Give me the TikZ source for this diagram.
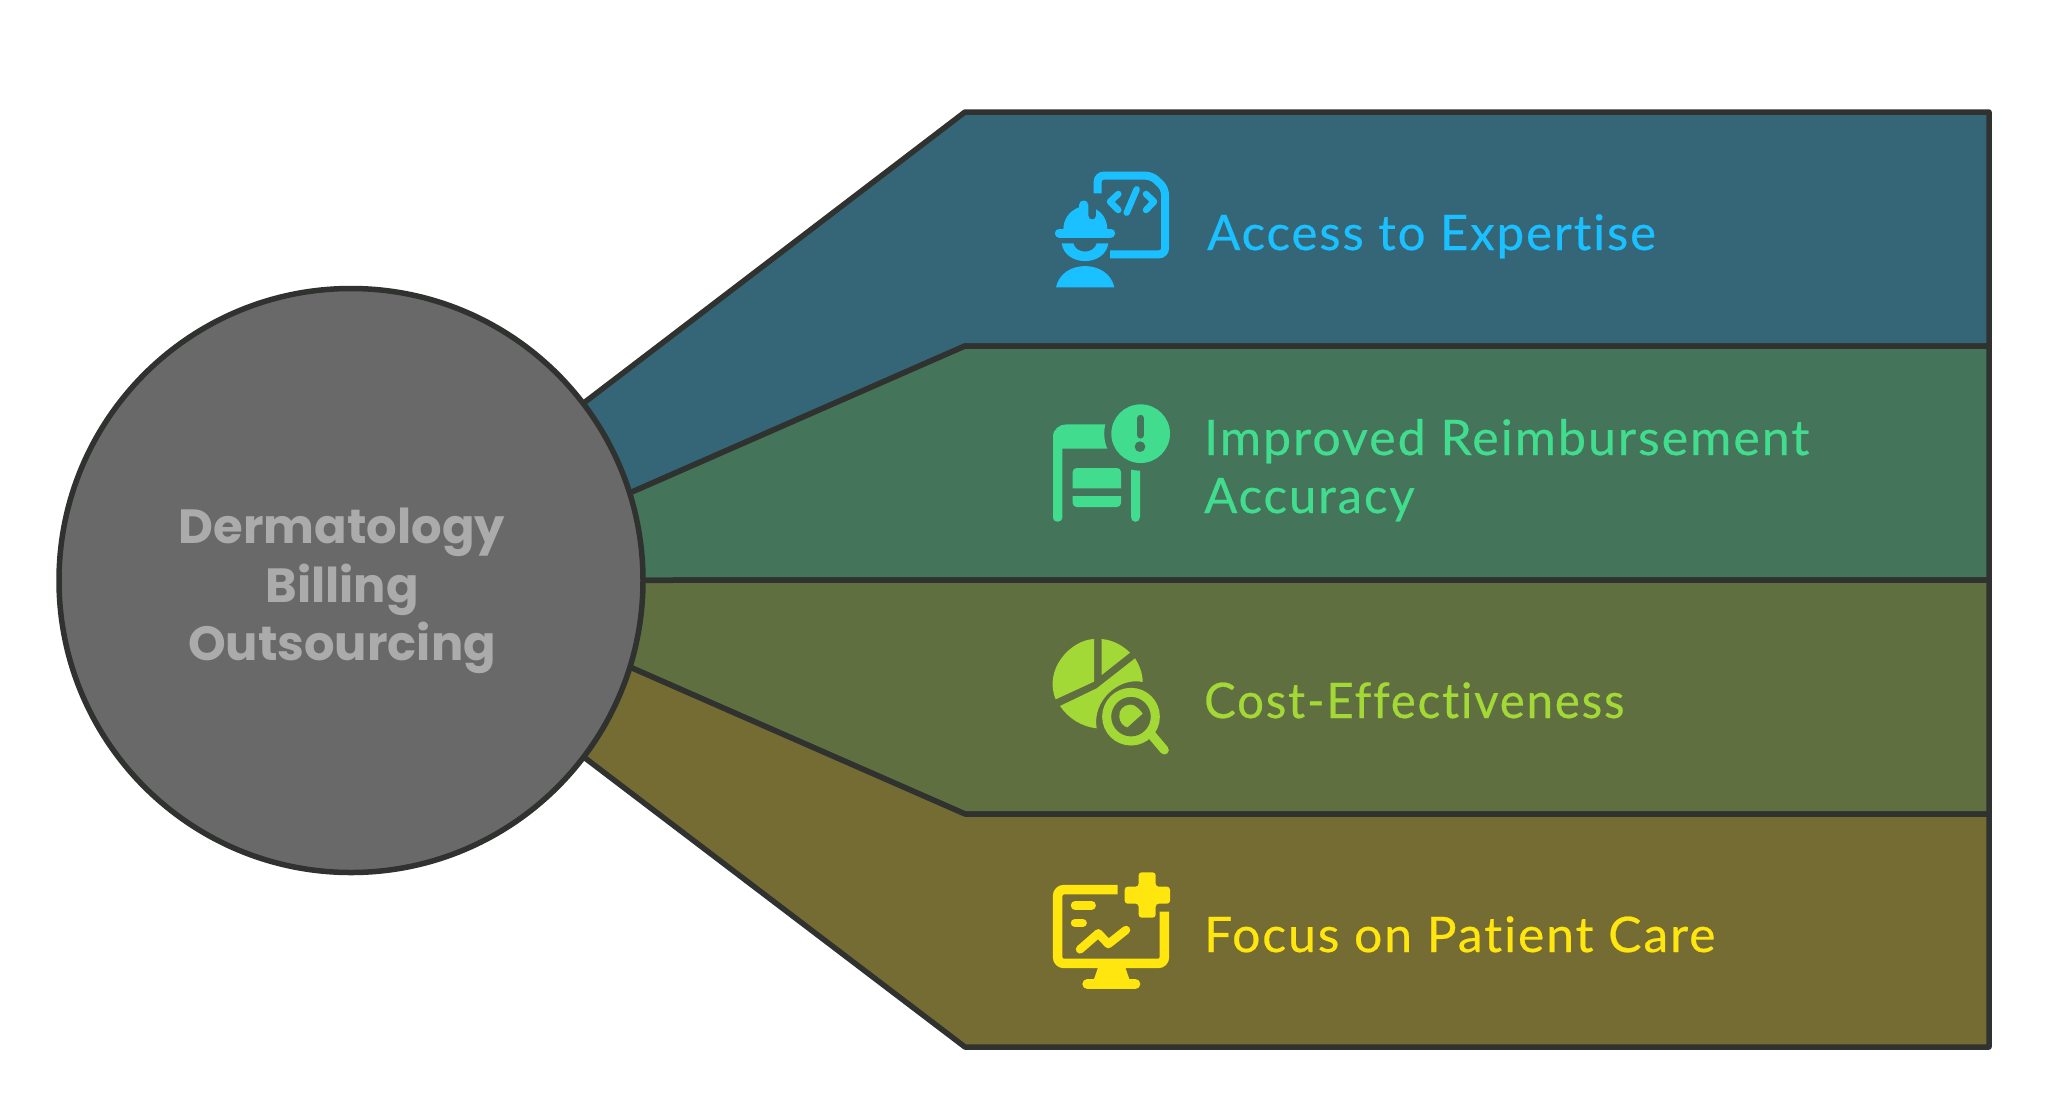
\documentclass[tikz,border=0pt]{standalone}
\usepackage{fontspec}
\setmainfont{Lato}
\newfontfamily\hubfont{Poppins}
\newfontfamily\labelfont[LetterSpace=4,FakeBold=0.5,Ligatures=NoCommon]{Lato}
\definecolor{edgeC}{HTML}{2F322F}
\definecolor{bandA}{HTML}{356678}
\definecolor{bandB}{HTML}{44745A}
\definecolor{bandC}{HTML}{5F6F40}
\definecolor{bandD}{HTML}{756C33}
\definecolor{hubC}{HTML}{696969}
\definecolor{hubT}{HTML}{ABABAB}
\definecolor{inkA}{HTML}{1AC0FF}
\definecolor{inkB}{HTML}{42DC8E}
\definecolor{inkC}{HTML}{A3D936}
\definecolor{inkD}{HTML}{FFE60F}
\tikzset{
  band/.style={draw=edgeC,line width=5.5pt,line join=round},
  label/.style={anchor=base west,inner sep=0pt,font=\labelfont\fontsize{49}{58}\selectfont},
  hublabel/.style={anchor=base,inner sep=0pt,text=hubT,font=\hubfont\bfseries\fontsize{48}{58}\selectfont},
  icon/.style={shift={#1},scale=1/3},
  rl/.style={line cap=round,line join=round}
}
\begin{document}
\begin{tikzpicture}[x=1pt,y=-1pt]
\useasboundingbox (0,0) rectangle (2048,1096);
\fill[white] (0,0) rectangle (2048,1096);
\coordinate (c) at (351,580.5);
\coordinate (a0) at (965,112); \coordinate (a1) at (1989,112);
\coordinate (b0) at (965,346); \coordinate (b1) at (1989,346);
\coordinate (m0) at (965,580); \coordinate (m1) at (1989,580);
\coordinate (d0) at (965,814); \coordinate (d1) at (1989,814);
\coordinate (e0) at (965,1047); \coordinate (e1) at (1989,1047);
\coordinate (ca) at (585,402); \coordinate (cb) at (632,492);
\coordinate (cd) at (632,668); \coordinate (ce) at (585,758);
\draw[band,fill=bandA] (ca) -- (a0) -- (a1) -- (b1) -- (b0) -- (cb) -- (c) -- cycle;
\draw[band,fill=bandB] (cb) -- (b0) -- (b1) -- (m1) -- (m0) -- (c) -- cycle;
\draw[band,fill=bandC] (c) -- (m0) -- (m1) -- (d1) -- (d0) -- (cd) -- cycle;
\draw[band,fill=bandD] (cd) -- (d0) -- (d1) -- (e1) -- (e0) -- (ce) -- (c) -- cycle;
\node[circle,draw=edgeC,fill=hubC,line width=5.5pt,minimum size=584pt,inner sep=0pt] (hub) at (c) {};
\node[hublabel] (h1) at (342,543) {Dermatology};
\node[hublabel] (h2) at (342,602) {Billing};
\node[hublabel] (h3) at (342,660) {Outsourcing};
\node[label,text=inkA] (l1) at (1207,250) {Access to Expertise};
\node[label,text=inkB] (l2a) at (1204,455) {\scalebox{1.022}[1]{Improved Reimbursement}};
\node[label,text=inkB] (l2b) at (1204,513) {Accuracy};
\node[label,text=inkC] (l3) at (1204,718) {\scalebox{0.964}[1]{Cost-Effectiveness}};
\node[label,text=inkD] (l4) at (1204,952) {\scalebox{1.015}[1]{Focus on Patient Care}};
% icon 1
\begin{scope}[icon={(1020,150)}]
\draw[inkA,line width=8pt,rounded corners=6pt] (233,130) -- (233,77) -- (395,77) -- (435,115) -- (435,313) -- (270,313);
\draw[inkA,line width=6.5pt,rl] (295,132) -- (270,155) -- (295,180);
\draw[inkA,line width=6.5pt,rl] (350,118) -- (320,188);
\draw[inkA,line width=6.5pt,rl] (378,132) -- (402,155) -- (378,180);
\fill[inkA] (130,240) .. controls (130,205) and (150,182) .. (177,172) -- (177,165) .. controls (177,147) and (205,147) .. (205,165) -- (205,197) .. controls (205,212) and (228,212) .. (228,197) -- (228,178) .. controls (250,190) and (262,212) .. (262,240) -- cycle;
\draw[inkA,line width=9pt,rl] (118,249) -- (272,249);
\fill[inkA] (125,280) -- (160,280) .. controls (168,313) and (222,313) .. (230,280) -- (265,280) .. controls (255,351) and (135,351) .. (125,280) -- cycle;
\fill[inkA] (108,412) .. controls (125,327) and (265,327) .. (283,412) -- cycle;
\end{scope}
% icon 2
\begin{scope}[icon={(1020,390)}]
\fill[inkB] (99,381) -- (99,140) .. controls (99,118) and (118,103) .. (140,103) -- (256,103) .. controls (250,125) and (252,155) .. (262,176) -- (127,176) -- (127,381) .. controls (127,400) and (99,400) .. (99,381) -- cycle;
\fill[inkB] (362,131) circle (88);
\draw[bandB,line width=7pt,rl] (362,85) -- (362,135);
\fill[bandB] (360,170) circle (16);
\fill[inkB] (333,239) .. controls (342,241) and (351,242) .. (360,242) -- (360,381) .. controls (360,400) and (333,400) .. (333,381) -- cycle;
\fill[inkB] (158,295) [rounded corners=4pt] -- (158,234) -- (303,234) [sharp corners] -- (303,295) -- cycle;
\fill[inkB] (158,318) [rounded corners=4pt] -- (158,351) -- (303,351) [sharp corners] -- (303,318) -- cycle;
\end{scope}
% icon 3
\begin{scope}[icon={(1020,620)}]
\fill[inkC] (222,57) .. controls (150,60) and (70,150) .. (107,238) -- (222,185) -- cycle;
\fill[inkC] (245,57) .. controls (280,60) and (310,78) .. (330,98) -- (245,165) -- cycle;
\fill[inkC] (120,258) -- (230,205) -- (345,115) .. controls (358,135) and (368,160) .. (368,186) .. controls (300,170) and (215,240) .. (230,325) .. controls (185,320) and (145,295) .. (120,258) -- cycle;
\draw[inkC,line width=9pt] (333,290) circle (73);
\draw[inkC,line width=9pt,rl] (395,345) -- (433,390);
\fill[inkC] (368,281) .. controls (355,262) and (340,252) .. (330,254) .. controls (310,255) and (296,270) .. (298,290) .. controls (298,305) and (310,320) .. (322,322) -- cycle;
\end{scope}
% icon 4
\begin{scope}[icon={(1020,855)}]
\draw[inkD,line width=9.5pt,rounded corners=6pt] (293,104) -- (113,104) -- (113,325) -- (433,325) -- (433,170);
\fill[inkD] (235,335) -- (315,335) -- (330,378) -- (220,378) -- cycle;
\draw[inkD,line width=10pt,rl] (202,387) -- (346,387);
\draw[inkD,line width=8.5pt,rl] (165,151) -- (215,151);
\draw[inkD,line width=8.5pt,rl] (165,204) -- (188,204);
\draw[inkD,line width=8.5pt,rl] (180,283) -- (235,235) -- (265,267) -- (318,225);
\fill[inkD,rounded corners=3pt] (356,52) -- (407,52) -- (407,95) -- (450,95) -- (450,146) -- (407,146) -- (407,188) -- (356,188) -- (356,146) -- (314,146) -- (314,95) -- (356,95) -- cycle;
\end{scope}
\end{tikzpicture}
\end{document}
